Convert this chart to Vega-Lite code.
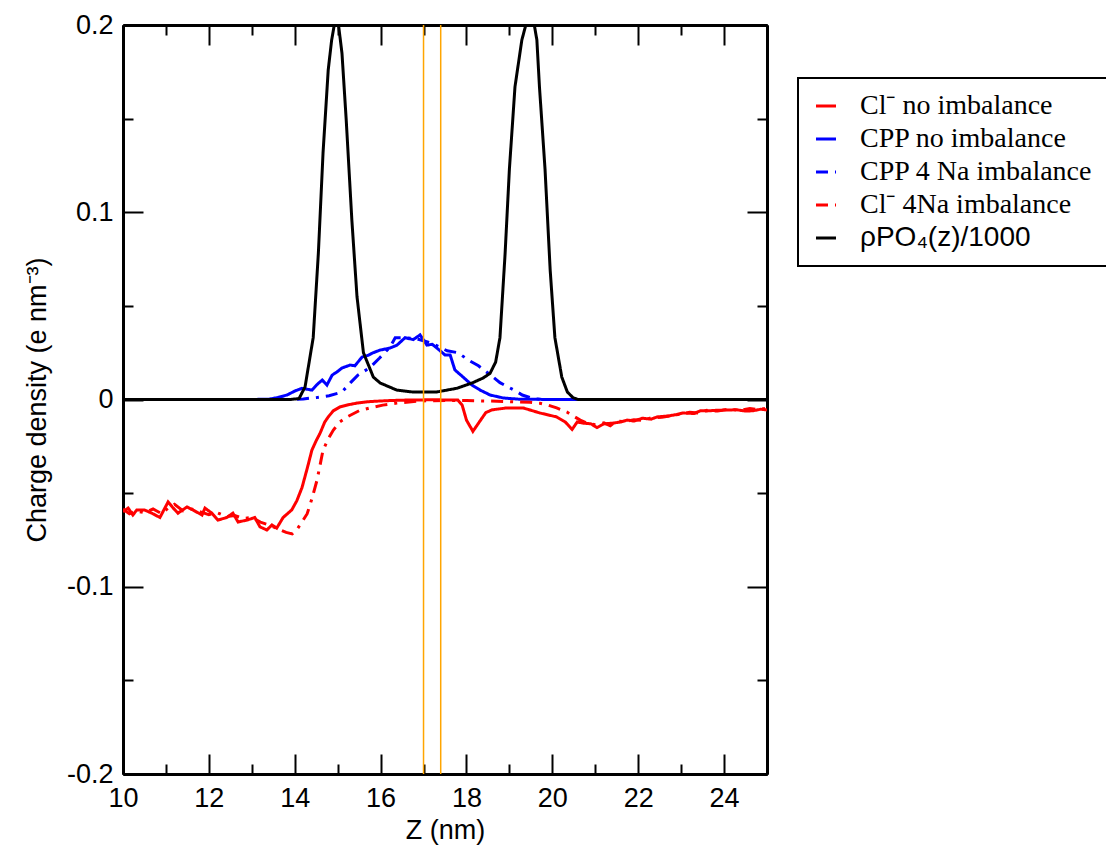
{
  "$schema": "https://vega.github.io/schema/vega-lite/v6.json",
  "width": 644,
  "height": 749,
  "autosize": "none",
  "padding": {"left": 123, "top": 25, "right": 339, "bottom": 73},
  "background": "white",
  "config": {
    "view": {"stroke": null},
    "axis": {"grid": false, "domainColor": "black", "domainWidth": 3, "tickColor": "black", "tickWidth": 2, "labelFont": "Liberation Sans", "labelFontSize": 27, "labelColor": "black", "titleFont": "Liberation Sans", "titleFontSize": 27, "titleFontWeight": "normal", "titleColor": "black", "labelOverlap": false, "labelFlush": false},
    "legend": {"orient": "none", "legendX": 675, "legendY": 53, "strokeColor": "black", "padding": 14, "rowPadding": 5, "symbolType": "stroke", "symbolSize": 400, "symbolStrokeWidth": 3, "labelFont": "Liberation Serif", "labelFontSize": 28, "labelColor": "black", "labelOffset": 20, "labelLimit": 500, "fillColor": "white"}
  },
  "datasets": {
    "curves": [
      {"s": "Cl⁻ no imbalance", "z": 10.0, "v": -0.060},
      {"s": "Cl⁻ no imbalance", "z": 10.12, "v": -0.058},
      {"s": "Cl⁻ no imbalance", "z": 10.23, "v": -0.0617},
      {"s": "Cl⁻ no imbalance", "z": 10.32, "v": -0.059},
      {"s": "Cl⁻ no imbalance", "z": 10.5, "v": -0.059},
      {"s": "Cl⁻ no imbalance", "z": 10.67, "v": -0.0607},
      {"s": "Cl⁻ no imbalance", "z": 10.86, "v": -0.063},
      {"s": "Cl⁻ no imbalance", "z": 11.05, "v": -0.0547},
      {"s": "Cl⁻ no imbalance", "z": 11.17, "v": -0.058},
      {"s": "Cl⁻ no imbalance", "z": 11.28, "v": -0.0607},
      {"s": "Cl⁻ no imbalance", "z": 11.49, "v": -0.0574},
      {"s": "Cl⁻ no imbalance", "z": 11.63, "v": -0.059},
      {"s": "Cl⁻ no imbalance", "z": 11.84, "v": -0.0617},
      {"s": "Cl⁻ no imbalance", "z": 11.91, "v": -0.058},
      {"s": "Cl⁻ no imbalance", "z": 12.07, "v": -0.0607},
      {"s": "Cl⁻ no imbalance", "z": 12.21, "v": -0.0644},
      {"s": "Cl⁻ no imbalance", "z": 12.42, "v": -0.063},
      {"s": "Cl⁻ no imbalance", "z": 12.56, "v": -0.0607},
      {"s": "Cl⁻ no imbalance", "z": 12.68, "v": -0.0654},
      {"s": "Cl⁻ no imbalance", "z": 12.89, "v": -0.0644},
      {"s": "Cl⁻ no imbalance", "z": 13.07, "v": -0.063},
      {"s": "Cl⁻ no imbalance", "z": 13.19, "v": -0.068},
      {"s": "Cl⁻ no imbalance", "z": 13.35, "v": -0.0697},
      {"s": "Cl⁻ no imbalance", "z": 13.47, "v": -0.067},
      {"s": "Cl⁻ no imbalance", "z": 13.58, "v": -0.0687},
      {"s": "Cl⁻ no imbalance", "z": 13.73, "v": -0.063},
      {"s": "Cl⁻ no imbalance", "z": 13.93, "v": -0.059},
      {"s": "Cl⁻ no imbalance", "z": 14.05, "v": -0.054},
      {"s": "Cl⁻ no imbalance", "z": 14.17, "v": -0.047},
      {"s": "Cl⁻ no imbalance", "z": 14.3, "v": -0.036},
      {"s": "Cl⁻ no imbalance", "z": 14.4, "v": -0.027},
      {"s": "Cl⁻ no imbalance", "z": 14.5, "v": -0.022},
      {"s": "Cl⁻ no imbalance", "z": 14.59, "v": -0.018},
      {"s": "Cl⁻ no imbalance", "z": 14.7, "v": -0.012},
      {"s": "Cl⁻ no imbalance", "z": 14.78, "v": -0.0093},
      {"s": "Cl⁻ no imbalance", "z": 14.9, "v": -0.006},
      {"s": "Cl⁻ no imbalance", "z": 15.05, "v": -0.004},
      {"s": "Cl⁻ no imbalance", "z": 15.25, "v": -0.0028},
      {"s": "Cl⁻ no imbalance", "z": 15.45, "v": -0.0019},
      {"s": "Cl⁻ no imbalance", "z": 15.7, "v": -0.0012},
      {"s": "Cl⁻ no imbalance", "z": 15.99, "v": -0.0008},
      {"s": "Cl⁻ no imbalance", "z": 16.3, "v": -0.0005},
      {"s": "Cl⁻ no imbalance", "z": 16.6, "v": -0.0003},
      {"s": "Cl⁻ no imbalance", "z": 17.0, "v": -0.0002},
      {"s": "Cl⁻ no imbalance", "z": 17.4, "v": -0.0002},
      {"s": "Cl⁻ no imbalance", "z": 17.8, "v": -0.0003},
      {"s": "Cl⁻ no imbalance", "z": 17.9, "v": -0.003},
      {"s": "Cl⁻ no imbalance", "z": 18.0, "v": -0.011},
      {"s": "Cl⁻ no imbalance", "z": 18.15, "v": -0.017},
      {"s": "Cl⁻ no imbalance", "z": 18.3, "v": -0.012},
      {"s": "Cl⁻ no imbalance", "z": 18.45, "v": -0.007},
      {"s": "Cl⁻ no imbalance", "z": 18.6, "v": -0.0055},
      {"s": "Cl⁻ no imbalance", "z": 18.94, "v": -0.0045},
      {"s": "Cl⁻ no imbalance", "z": 19.32, "v": -0.0045},
      {"s": "Cl⁻ no imbalance", "z": 19.71, "v": -0.0072},
      {"s": "Cl⁻ no imbalance", "z": 20.1, "v": -0.0093},
      {"s": "Cl⁻ no imbalance", "z": 20.3, "v": -0.012},
      {"s": "Cl⁻ no imbalance", "z": 20.46, "v": -0.016},
      {"s": "Cl⁻ no imbalance", "z": 20.58, "v": -0.012},
      {"s": "Cl⁻ no imbalance", "z": 20.71, "v": -0.0126},
      {"s": "Cl⁻ no imbalance", "z": 20.9, "v": -0.013},
      {"s": "Cl⁻ no imbalance", "z": 21.04, "v": -0.015},
      {"s": "Cl⁻ no imbalance", "z": 21.2, "v": -0.013},
      {"s": "Cl⁻ no imbalance", "z": 21.41, "v": -0.0126},
      {"s": "Cl⁻ no imbalance", "z": 21.6, "v": -0.012},
      {"s": "Cl⁻ no imbalance", "z": 21.74, "v": -0.011},
      {"s": "Cl⁻ no imbalance", "z": 21.9, "v": -0.0115},
      {"s": "Cl⁻ no imbalance", "z": 22.1, "v": -0.010},
      {"s": "Cl⁻ no imbalance", "z": 22.3, "v": -0.0105},
      {"s": "Cl⁻ no imbalance", "z": 22.44, "v": -0.0093},
      {"s": "Cl⁻ no imbalance", "z": 22.7, "v": -0.0088},
      {"s": "Cl⁻ no imbalance", "z": 22.9, "v": -0.008},
      {"s": "Cl⁻ no imbalance", "z": 23.04, "v": -0.0072},
      {"s": "Cl⁻ no imbalance", "z": 23.3, "v": -0.0075},
      {"s": "Cl⁻ no imbalance", "z": 23.45, "v": -0.006},
      {"s": "Cl⁻ no imbalance", "z": 23.6, "v": -0.0061},
      {"s": "Cl⁻ no imbalance", "z": 23.8, "v": -0.0058},
      {"s": "Cl⁻ no imbalance", "z": 24.07, "v": -0.0056},
      {"s": "Cl⁻ no imbalance", "z": 24.3, "v": -0.0055},
      {"s": "Cl⁻ no imbalance", "z": 24.5, "v": -0.0062},
      {"s": "Cl⁻ no imbalance", "z": 24.68, "v": -0.006},
      {"s": "Cl⁻ no imbalance", "z": 24.85, "v": -0.0052},
      {"s": "Cl⁻ no imbalance", "z": 25.0, "v": -0.0056},

      {"s": "CPP no imbalance", "z": 10.0, "v": 0},
      {"s": "CPP no imbalance", "z": 13.0, "v": 0},
      {"s": "CPP no imbalance", "z": 13.4, "v": 0.0002},
      {"s": "CPP no imbalance", "z": 13.6, "v": 0.001},
      {"s": "CPP no imbalance", "z": 13.82, "v": 0.0024},
      {"s": "CPP no imbalance", "z": 14.0, "v": 0.0045},
      {"s": "CPP no imbalance", "z": 14.17, "v": 0.006},
      {"s": "CPP no imbalance", "z": 14.4, "v": 0.005},
      {"s": "CPP no imbalance", "z": 14.52, "v": 0.008},
      {"s": "CPP no imbalance", "z": 14.64, "v": 0.0104},
      {"s": "CPP no imbalance", "z": 14.75, "v": 0.0077},
      {"s": "CPP no imbalance", "z": 14.87, "v": 0.013},
      {"s": "CPP no imbalance", "z": 15.0, "v": 0.015},
      {"s": "CPP no imbalance", "z": 15.1, "v": 0.0168},
      {"s": "CPP no imbalance", "z": 15.29, "v": 0.0184},
      {"s": "CPP no imbalance", "z": 15.4, "v": 0.018},
      {"s": "CPP no imbalance", "z": 15.57, "v": 0.0227},
      {"s": "CPP no imbalance", "z": 15.7, "v": 0.0235},
      {"s": "CPP no imbalance", "z": 15.83, "v": 0.025},
      {"s": "CPP no imbalance", "z": 15.99, "v": 0.0264},
      {"s": "CPP no imbalance", "z": 16.22, "v": 0.0275},
      {"s": "CPP no imbalance", "z": 16.38, "v": 0.029},
      {"s": "CPP no imbalance", "z": 16.57, "v": 0.033},
      {"s": "CPP no imbalance", "z": 16.76, "v": 0.032},
      {"s": "CPP no imbalance", "z": 16.92, "v": 0.0345},
      {"s": "CPP no imbalance", "z": 17.08, "v": 0.029},
      {"s": "CPP no imbalance", "z": 17.2, "v": 0.0295},
      {"s": "CPP no imbalance", "z": 17.31, "v": 0.0275},
      {"s": "CPP no imbalance", "z": 17.5, "v": 0.0238},
      {"s": "CPP no imbalance", "z": 17.62, "v": 0.0238},
      {"s": "CPP no imbalance", "z": 17.73, "v": 0.0158},
      {"s": "CPP no imbalance", "z": 17.92, "v": 0.012},
      {"s": "CPP no imbalance", "z": 18.13, "v": 0.0077},
      {"s": "CPP no imbalance", "z": 18.32, "v": 0.005},
      {"s": "CPP no imbalance", "z": 18.55, "v": 0.0024},
      {"s": "CPP no imbalance", "z": 18.86, "v": 0.0008},
      {"s": "CPP no imbalance", "z": 19.2, "v": 0.0002},
      {"s": "CPP no imbalance", "z": 19.6, "v": 0.0001},
      {"s": "CPP no imbalance", "z": 20.0, "v": 0},
      {"s": "CPP no imbalance", "z": 25.0, "v": 0},

      {"s": "CPP 4 Na imbalance", "z": 10.0, "v": 0},
      {"s": "CPP 4 Na imbalance", "z": 14.0, "v": 0},
      {"s": "CPP 4 Na imbalance", "z": 14.2, "v": 0.0003},
      {"s": "CPP 4 Na imbalance", "z": 14.5, "v": 0.001},
      {"s": "CPP 4 Na imbalance", "z": 14.8, "v": 0.002},
      {"s": "CPP 4 Na imbalance", "z": 15.1, "v": 0.004},
      {"s": "CPP 4 Na imbalance", "z": 15.3, "v": 0.009},
      {"s": "CPP 4 Na imbalance", "z": 15.47, "v": 0.013},
      {"s": "CPP 4 Na imbalance", "z": 15.75, "v": 0.017},
      {"s": "CPP 4 Na imbalance", "z": 15.97, "v": 0.022},
      {"s": "CPP 4 Na imbalance", "z": 16.22, "v": 0.028},
      {"s": "CPP 4 Na imbalance", "z": 16.34, "v": 0.033},
      {"s": "CPP 4 Na imbalance", "z": 16.6, "v": 0.033},
      {"s": "CPP 4 Na imbalance", "z": 16.9, "v": 0.032},
      {"s": "CPP 4 Na imbalance", "z": 17.2, "v": 0.030},
      {"s": "CPP 4 Na imbalance", "z": 17.55, "v": 0.026},
      {"s": "CPP 4 Na imbalance", "z": 17.8, "v": 0.025},
      {"s": "CPP 4 Na imbalance", "z": 18.05, "v": 0.021},
      {"s": "CPP 4 Na imbalance", "z": 18.28, "v": 0.018},
      {"s": "CPP 4 Na imbalance", "z": 18.45, "v": 0.015},
      {"s": "CPP 4 Na imbalance", "z": 18.62, "v": 0.012},
      {"s": "CPP 4 Na imbalance", "z": 18.78, "v": 0.009},
      {"s": "CPP 4 Na imbalance", "z": 18.97, "v": 0.0067},
      {"s": "CPP 4 Na imbalance", "z": 19.15, "v": 0.0045},
      {"s": "CPP 4 Na imbalance", "z": 19.3, "v": 0.0024},
      {"s": "CPP 4 Na imbalance", "z": 19.55, "v": 0.0005},
      {"s": "CPP 4 Na imbalance", "z": 19.8, "v": 0},
      {"s": "CPP 4 Na imbalance", "z": 25.0, "v": 0},

      {"s": "Cl⁻ 4Na imbalance", "z": 10.0, "v": -0.0585},
      {"s": "Cl⁻ 4Na imbalance", "z": 10.15, "v": -0.061},
      {"s": "Cl⁻ 4Na imbalance", "z": 10.3, "v": -0.0595},
      {"s": "Cl⁻ 4Na imbalance", "z": 10.5, "v": -0.0605},
      {"s": "Cl⁻ 4Na imbalance", "z": 10.7, "v": -0.0585},
      {"s": "Cl⁻ 4Na imbalance", "z": 10.9, "v": -0.061},
      {"s": "Cl⁻ 4Na imbalance", "z": 11.05, "v": -0.058},
      {"s": "Cl⁻ 4Na imbalance", "z": 11.2, "v": -0.056},
      {"s": "Cl⁻ 4Na imbalance", "z": 11.4, "v": -0.0595},
      {"s": "Cl⁻ 4Na imbalance", "z": 11.6, "v": -0.0585},
      {"s": "Cl⁻ 4Na imbalance", "z": 11.8, "v": -0.060},
      {"s": "Cl⁻ 4Na imbalance", "z": 12.0, "v": -0.0615},
      {"s": "Cl⁻ 4Na imbalance", "z": 12.2, "v": -0.0605},
      {"s": "Cl⁻ 4Na imbalance", "z": 12.4, "v": -0.0625},
      {"s": "Cl⁻ 4Na imbalance", "z": 12.6, "v": -0.062},
      {"s": "Cl⁻ 4Na imbalance", "z": 12.8, "v": -0.0635},
      {"s": "Cl⁻ 4Na imbalance", "z": 13.0, "v": -0.063},
      {"s": "Cl⁻ 4Na imbalance", "z": 13.2, "v": -0.0655},
      {"s": "Cl⁻ 4Na imbalance", "z": 13.4, "v": -0.067},
      {"s": "Cl⁻ 4Na imbalance", "z": 13.6, "v": -0.069},
      {"s": "Cl⁻ 4Na imbalance", "z": 13.8, "v": -0.071},
      {"s": "Cl⁻ 4Na imbalance", "z": 13.94, "v": -0.0718},
      {"s": "Cl⁻ 4Na imbalance", "z": 14.05, "v": -0.0695},
      {"s": "Cl⁻ 4Na imbalance", "z": 14.18, "v": -0.065},
      {"s": "Cl⁻ 4Na imbalance", "z": 14.29, "v": -0.061},
      {"s": "Cl⁻ 4Na imbalance", "z": 14.4, "v": -0.053},
      {"s": "Cl⁻ 4Na imbalance", "z": 14.52, "v": -0.043},
      {"s": "Cl⁻ 4Na imbalance", "z": 14.66, "v": -0.027},
      {"s": "Cl⁻ 4Na imbalance", "z": 14.78, "v": -0.021},
      {"s": "Cl⁻ 4Na imbalance", "z": 14.9, "v": -0.0163},
      {"s": "Cl⁻ 4Na imbalance", "z": 15.05, "v": -0.012},
      {"s": "Cl⁻ 4Na imbalance", "z": 15.22, "v": -0.0093},
      {"s": "Cl⁻ 4Na imbalance", "z": 15.5, "v": -0.006},
      {"s": "Cl⁻ 4Na imbalance", "z": 15.75, "v": -0.0045},
      {"s": "Cl⁻ 4Na imbalance", "z": 16.05, "v": -0.003},
      {"s": "Cl⁻ 4Na imbalance", "z": 16.38, "v": -0.0019},
      {"s": "Cl⁻ 4Na imbalance", "z": 16.92, "v": -0.0008},
      {"s": "Cl⁻ 4Na imbalance", "z": 17.5, "v": -0.0005},
      {"s": "Cl⁻ 4Na imbalance", "z": 18.0, "v": -0.0006},
      {"s": "Cl⁻ 4Na imbalance", "z": 18.5, "v": -0.0008},
      {"s": "Cl⁻ 4Na imbalance", "z": 19.0, "v": -0.0012},
      {"s": "Cl⁻ 4Na imbalance", "z": 19.48, "v": -0.0015},
      {"s": "Cl⁻ 4Na imbalance", "z": 19.71, "v": -0.002},
      {"s": "Cl⁻ 4Na imbalance", "z": 19.9, "v": -0.003},
      {"s": "Cl⁻ 4Na imbalance", "z": 20.1, "v": -0.0045},
      {"s": "Cl⁻ 4Na imbalance", "z": 20.34, "v": -0.0067},
      {"s": "Cl⁻ 4Na imbalance", "z": 20.5, "v": -0.009},
      {"s": "Cl⁻ 4Na imbalance", "z": 20.65, "v": -0.011},
      {"s": "Cl⁻ 4Na imbalance", "z": 20.8, "v": -0.0125},
      {"s": "Cl⁻ 4Na imbalance", "z": 21.0, "v": -0.0135},
      {"s": "Cl⁻ 4Na imbalance", "z": 21.2, "v": -0.0125},
      {"s": "Cl⁻ 4Na imbalance", "z": 21.35, "v": -0.014},
      {"s": "Cl⁻ 4Na imbalance", "z": 21.5, "v": -0.0115},
      {"s": "Cl⁻ 4Na imbalance", "z": 21.7, "v": -0.0118},
      {"s": "Cl⁻ 4Na imbalance", "z": 21.9, "v": -0.0108},
      {"s": "Cl⁻ 4Na imbalance", "z": 22.1, "v": -0.0112},
      {"s": "Cl⁻ 4Na imbalance", "z": 22.3, "v": -0.0098},
      {"s": "Cl⁻ 4Na imbalance", "z": 22.55, "v": -0.0095},
      {"s": "Cl⁻ 4Na imbalance", "z": 22.8, "v": -0.0085},
      {"s": "Cl⁻ 4Na imbalance", "z": 23.0, "v": -0.0078},
      {"s": "Cl⁻ 4Na imbalance", "z": 23.2, "v": -0.0068},
      {"s": "Cl⁻ 4Na imbalance", "z": 23.4, "v": -0.0072},
      {"s": "Cl⁻ 4Na imbalance", "z": 23.6, "v": -0.0058},
      {"s": "Cl⁻ 4Na imbalance", "z": 23.85, "v": -0.0062},
      {"s": "Cl⁻ 4Na imbalance", "z": 24.1, "v": -0.0052},
      {"s": "Cl⁻ 4Na imbalance", "z": 24.35, "v": -0.0058},
      {"s": "Cl⁻ 4Na imbalance", "z": 24.6, "v": -0.0048},
      {"s": "Cl⁻ 4Na imbalance", "z": 24.8, "v": -0.0055},
      {"s": "Cl⁻ 4Na imbalance", "z": 25.0, "v": -0.0045},

      {"s": "ρPO₄(z)/1000", "z": 10.0, "v": 0},
      {"s": "ρPO₄(z)/1000", "z": 13.9, "v": 0},
      {"s": "ρPO₄(z)/1000", "z": 14.1, "v": 0.0005},
      {"s": "ρPO₄(z)/1000", "z": 14.24, "v": 0.0067},
      {"s": "ρPO₄(z)/1000", "z": 14.43, "v": 0.033},
      {"s": "ρPO₄(z)/1000", "z": 14.55, "v": 0.078},
      {"s": "ρPO₄(z)/1000", "z": 14.66, "v": 0.132},
      {"s": "ρPO₄(z)/1000", "z": 14.78, "v": 0.176},
      {"s": "ρPO₄(z)/1000", "z": 14.86, "v": 0.192},
      {"s": "ρPO₄(z)/1000", "z": 14.96, "v": 0.205},
      {"s": "ρPO₄(z)/1000", "z": 15.02, "v": 0.200},
      {"s": "ρPO₄(z)/1000", "z": 15.1, "v": 0.185},
      {"s": "ρPO₄(z)/1000", "z": 15.2, "v": 0.149},
      {"s": "ρPO₄(z)/1000", "z": 15.33, "v": 0.096},
      {"s": "ρPO₄(z)/1000", "z": 15.45, "v": 0.055},
      {"s": "ρPO₄(z)/1000", "z": 15.6, "v": 0.025},
      {"s": "ρPO₄(z)/1000", "z": 15.83, "v": 0.012},
      {"s": "ρPO₄(z)/1000", "z": 15.99, "v": 0.0088},
      {"s": "ρPO₄(z)/1000", "z": 16.38, "v": 0.005},
      {"s": "ρPO₄(z)/1000", "z": 16.75, "v": 0.004},
      {"s": "ρPO₄(z)/1000", "z": 17.3, "v": 0.004},
      {"s": "ρPO₄(z)/1000", "z": 17.78, "v": 0.006},
      {"s": "ρPO₄(z)/1000", "z": 18.15, "v": 0.009},
      {"s": "ρPO₄(z)/1000", "z": 18.39, "v": 0.0115},
      {"s": "ρPO₄(z)/1000", "z": 18.55, "v": 0.014},
      {"s": "ρPO₄(z)/1000", "z": 18.68, "v": 0.020},
      {"s": "ρPO₄(z)/1000", "z": 18.78, "v": 0.033},
      {"s": "ρPO₄(z)/1000", "z": 18.9, "v": 0.078},
      {"s": "ρPO₄(z)/1000", "z": 19.0, "v": 0.123},
      {"s": "ρPO₄(z)/1000", "z": 19.13, "v": 0.167},
      {"s": "ρPO₄(z)/1000", "z": 19.29, "v": 0.192},
      {"s": "ρPO₄(z)/1000", "z": 19.44, "v": 0.205},
      {"s": "ρPO₄(z)/1000", "z": 19.58, "v": 0.200},
      {"s": "ρPO₄(z)/1000", "z": 19.64, "v": 0.192},
      {"s": "ρPO₄(z)/1000", "z": 19.7, "v": 0.167},
      {"s": "ρPO₄(z)/1000", "z": 19.83, "v": 0.123},
      {"s": "ρPO₄(z)/1000", "z": 19.95, "v": 0.069},
      {"s": "ρPO₄(z)/1000", "z": 20.06, "v": 0.033},
      {"s": "ρPO₄(z)/1000", "z": 20.22, "v": 0.012},
      {"s": "ρPO₄(z)/1000", "z": 20.35, "v": 0.004},
      {"s": "ρPO₄(z)/1000", "z": 20.48, "v": 0.001},
      {"s": "ρPO₄(z)/1000", "z": 20.6, "v": 0},
      {"s": "ρPO₄(z)/1000", "z": 25.0, "v": 0}
    ],
    "vlines": [{"z": 17.0}, {"z": 17.4}]
  },
  "resolve": {"axis": {"x": "independent", "y": "independent"}},
  "layer": [
    {
      "data": {"name": "curves"},
      "transform": [{"filter": {"field": "s", "oneOf": ["Cl⁻ no imbalance"]}}],
      "mark": {"type": "line", "strokeWidth": 3, "clip": true},
      "encoding": {
        "x": {"field": "z", "type": "quantitative", "scale": {"domain": [10, 25], "nice": false, "zero": false},
          "axis": {"orient": "bottom", "values": [10, 12, 14, 16, 18, 20, 22, 24], "tickSize": -20, "labelPadding": 52, "labelBaseline": "alphabetic", "title": "Z (nm)", "titleBaseline": "alphabetic", "titleY": 64}},
        "y": {"field": "v", "type": "quantitative", "scale": {"domain": [-0.2, 0.2], "nice": false, "zero": false},
          "axis": {"orient": "left", "values": [-0.2, -0.1, 0, 0.1, 0.2], "tickSize": -20, "labelPadding": 30, "labelBaseline": "middle", "labelExpr": "'' + round(datum.value*10)/10", "title": "Charge density (e nm⁻³)", "titleBaseline": "alphabetic", "titleX": -78}},
        "color": {"field": "s", "type": "nominal",
          "scale": {"domain": ["Cl⁻ no imbalance", "CPP no imbalance", "CPP 4 Na imbalance", "Cl⁻ 4Na imbalance", "ρPO₄(z)/1000"], "range": ["#ff0000", "#0000ff", "#0000ff", "#ff0000", "#000000"]},
          "legend": {"title": null, "encode": {"labels": {"update": {"font": {"signal": "datum.label == 'ρPO₄(z)/1000' ? 'Liberation Sans' : 'Liberation Serif'"}}}, "legend": {"update": {"strokeWidth": {"value": 2}}}}}},
        "strokeDash": {"field": "s", "type": "nominal",
          "scale": {"domain": ["Cl⁻ no imbalance", "CPP no imbalance", "CPP 4 Na imbalance", "Cl⁻ 4Na imbalance", "ρPO₄(z)/1000"], "range": [[1, 0], [1, 0], [12, 7, 3, 7], [12, 7, 3, 7], [1, 0]]},
          "legend": {"title": null, "encode": {"labels": {"update": {"font": {"signal": "datum.label == 'ρPO₄(z)/1000' ? 'Liberation Sans' : 'Liberation Serif'"}}}, "legend": {"update": {"strokeWidth": {"value": 2}}}}}}
      }
    },
    {
      "data": {"name": "curves"},
      "transform": [{"filter": {"field": "s", "oneOf": ["CPP no imbalance", "CPP 4 Na imbalance"]}}],
      "mark": {"type": "line", "strokeWidth": 3, "clip": true},
      "encoding": {
        "x": {"field": "z", "type": "quantitative", "scale": {"domain": [10, 25], "nice": false, "zero": false},
          "axis": {"orient": "bottom", "values": [11, 13, 15, 17, 19, 21, 23], "tickSize": -10, "labels": false, "title": null}},
        "y": {"field": "v", "type": "quantitative", "scale": {"domain": [-0.2, 0.2], "nice": false, "zero": false},
          "axis": {"orient": "left", "values": [-0.15, -0.05, 0.05, 0.15], "tickSize": -10, "labels": false, "title": null}},
        "color": {"field": "s", "type": "nominal",
          "scale": {"domain": ["Cl⁻ no imbalance", "CPP no imbalance", "CPP 4 Na imbalance", "Cl⁻ 4Na imbalance", "ρPO₄(z)/1000"], "range": ["#ff0000", "#0000ff", "#0000ff", "#ff0000", "#000000"]}},
        "strokeDash": {"field": "s", "type": "nominal",
          "scale": {"domain": ["Cl⁻ no imbalance", "CPP no imbalance", "CPP 4 Na imbalance", "Cl⁻ 4Na imbalance", "ρPO₄(z)/1000"], "range": [[1, 0], [1, 0], [12, 7, 3, 7], [12, 7, 3, 7], [1, 0]]}}
      }
    },
    {
      "data": {"name": "curves"},
      "transform": [{"filter": {"field": "s", "oneOf": ["Cl⁻ 4Na imbalance"]}}],
      "mark": {"type": "line", "strokeWidth": 3, "clip": true},
      "encoding": {
        "x": {"field": "z", "type": "quantitative", "scale": {"domain": [10, 25], "nice": false, "zero": false},
          "axis": {"orient": "top", "values": [10, 12, 14, 16, 18, 20, 22, 24], "tickSize": -20, "labels": false, "title": null}},
        "y": {"field": "v", "type": "quantitative", "scale": {"domain": [-0.2, 0.2], "nice": false, "zero": false},
          "axis": {"orient": "right", "values": [-0.2, -0.1, 0, 0.1, 0.2], "tickSize": -20, "labels": false, "title": null}},
        "color": {"field": "s", "type": "nominal",
          "scale": {"domain": ["Cl⁻ no imbalance", "CPP no imbalance", "CPP 4 Na imbalance", "Cl⁻ 4Na imbalance", "ρPO₄(z)/1000"], "range": ["#ff0000", "#0000ff", "#0000ff", "#ff0000", "#000000"]}},
        "strokeDash": {"field": "s", "type": "nominal",
          "scale": {"domain": ["Cl⁻ no imbalance", "CPP no imbalance", "CPP 4 Na imbalance", "Cl⁻ 4Na imbalance", "ρPO₄(z)/1000"], "range": [[1, 0], [1, 0], [12, 7, 3, 7], [12, 7, 3, 7], [1, 0]]}}
      }
    },
    {
      "data": {"name": "curves"},
      "transform": [{"filter": {"field": "s", "oneOf": ["ρPO₄(z)/1000"]}}],
      "mark": {"type": "line", "strokeWidth": 3, "clip": true},
      "encoding": {
        "x": {"field": "z", "type": "quantitative", "scale": {"domain": [10, 25], "nice": false, "zero": false},
          "axis": {"orient": "top", "values": [11, 13, 15, 17, 19, 21, 23], "tickSize": -10, "labels": false, "title": null}},
        "y": {"field": "v", "type": "quantitative", "scale": {"domain": [-0.2, 0.2], "nice": false, "zero": false},
          "axis": {"orient": "right", "values": [-0.15, -0.05, 0.05, 0.15], "tickSize": -10, "labels": false, "title": null}},
        "color": {"field": "s", "type": "nominal",
          "scale": {"domain": ["Cl⁻ no imbalance", "CPP no imbalance", "CPP 4 Na imbalance", "Cl⁻ 4Na imbalance", "ρPO₄(z)/1000"], "range": ["#ff0000", "#0000ff", "#0000ff", "#ff0000", "#000000"]}},
        "strokeDash": {"field": "s", "type": "nominal",
          "scale": {"domain": ["Cl⁻ no imbalance", "CPP no imbalance", "CPP 4 Na imbalance", "Cl⁻ 4Na imbalance", "ρPO₄(z)/1000"], "range": [[1, 0], [1, 0], [12, 7, 3, 7], [12, 7, 3, 7], [1, 0]]}}
      }
    },
    {
      "data": {"name": "vlines"},
      "mark": {"type": "rule", "color": "#ffa500", "strokeWidth": 1.5},
      "encoding": {
        "x": {"field": "z", "type": "quantitative", "scale": {"domain": [10, 25], "nice": false, "zero": false}, "axis": null}
      }
    }
  ]
}
